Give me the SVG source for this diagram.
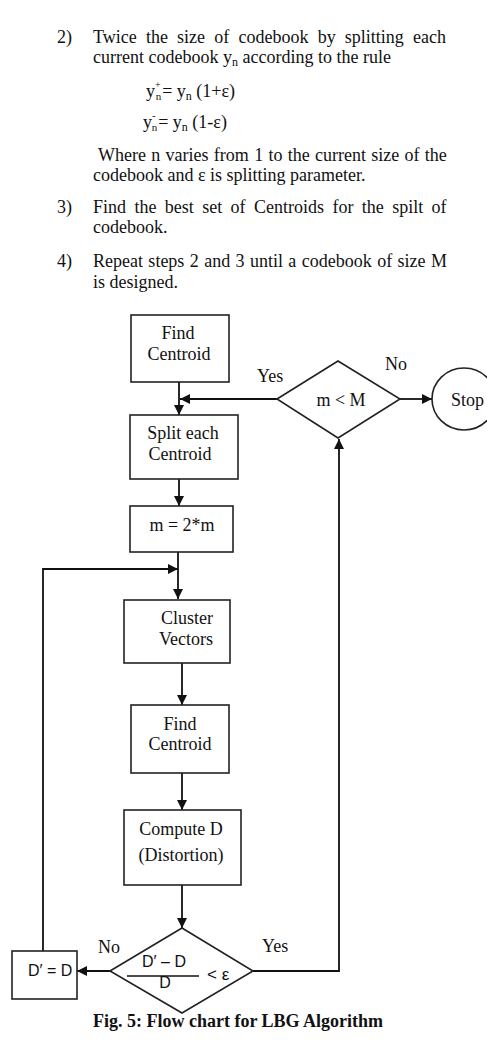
<svg xmlns="http://www.w3.org/2000/svg" width="487" height="1050" viewBox="0 0 487 1050">
<defs>
<style>
.t{font-family:"Liberation Serif","Times New Roman",serif;font-size:18px;fill:#111}
.c{text-anchor:middle}
.s{font-family:"Liberation Sans",Arial,sans-serif;fill:#111}
.b{font-weight:bold}
.box{fill:#fff;stroke:#222;stroke-width:1.6}
.ln{fill:none;stroke:#111;stroke-width:1.8}
</style>
<marker id="ah" viewBox="0 0 10 10" refX="10" refY="5" markerWidth="10" markerHeight="10" markerUnits="userSpaceOnUse" orient="auto">
<path d="M0,0 L10,5 L0,10 Z" fill="#111"/>
</marker>
</defs>
<rect width="487" height="1050" fill="#fff"/>

<g id="body-text">
<text class="t" x="57" y="43">2)</text>
<text class="t" x="93" y="43" word-spacing="4.7">Twice the size of codebook by splitting each</text>
<text class="t" x="93" y="63">current codebook y<tspan font-size="12" dy="3">n</tspan><tspan dy="-3"> according to the rule</tspan></text>
<text class="t" x="146" y="97">y<tspan font-size="10" dy="-9">+</tspan><tspan font-size="11" dx="-5" dy="12">n</tspan><tspan dy="-3" dx="1">= y</tspan><tspan font-size="12" dy="3">n</tspan><tspan dy="-3"> (1+ε)</tspan></text>
<text class="t" x="143" y="128">y<tspan font-size="11" dy="-9">-</tspan><tspan font-size="11" dx="-4" dy="12">n</tspan><tspan dy="-3" dx="1">= y</tspan><tspan font-size="12" dy="3">n</tspan><tspan dy="-3"> (1-ε)</tspan></text>
<text class="t" x="98" y="161" word-spacing="0.8">Where n varies from 1 to the current size of the</text>
<text class="t" x="93" y="181">codebook and ε is splitting parameter.</text>
<text class="t" x="57" y="213">3)</text>
<text class="t" x="93" y="213" word-spacing="3.9">Find the best set of Centroids for the spilt of</text>
<text class="t" x="93" y="233">codebook.</text>
<text class="t" x="57" y="267">4)</text>
<text class="t" x="93" y="267" word-spacing="0.9">Repeat steps 2 and 3 until a codebook of size M</text>
<text class="t" x="93" y="288">is designed.</text>
</g>

<g id="connectors">
<line class="ln" x1="179" y1="382" x2="179" y2="415" marker-end="url(#ah)"/>
<line class="ln" x1="277" y1="399" x2="180" y2="399" marker-end="url(#ah)"/>
<line class="ln" x1="400" y1="399" x2="432" y2="399" marker-end="url(#ah)"/>
<line class="ln" x1="179" y1="479" x2="179" y2="506" marker-end="url(#ah)"/>
<line class="ln" x1="178" y1="552" x2="178" y2="599" marker-end="url(#ah)"/>
<polyline class="ln" points="43,951 43,569 178,569" marker-end="url(#ah)"/>
<line class="ln" x1="182" y1="663" x2="182" y2="705" marker-end="url(#ah)"/>
<line class="ln" x1="182" y1="773" x2="182" y2="810" marker-end="url(#ah)"/>
<line class="ln" x1="182" y1="885" x2="182" y2="928" marker-end="url(#ah)"/>
<line class="ln" x1="110" y1="971" x2="77" y2="971" marker-end="url(#ah)"/>
<polyline class="ln" points="253,971 339,971 339,439" marker-end="url(#ah)"/>
<text class="t" x="257" y="382">Yes</text>
<text class="t" x="385" y="370">No</text>
<text class="t" x="98" y="953">No</text>
<text class="t" x="262" y="952">Yes</text>
</g>

<g id="find-centroid-1">
<rect class="box" x="131" y="315" width="98" height="67"/>
<text class="t c" x="178" y="339">Find</text>
<text class="t c" x="179" y="360">Centroid</text>
</g>

<g id="split">
<rect class="box" x="130" y="415" width="108" height="64"/>
<text class="t c" x="183" y="439">Split each</text>
<text class="t c" x="180" y="460">Centroid</text>
</g>

<g id="m-less-M">
<polygon class="box" points="277,399 338,361 400,399 338,438"/>
<text class="t c" x="341" y="406">m &lt; M</text>
</g>

<g id="stop">
<ellipse class="box" cx="464" cy="399" rx="32" ry="31"/>
<text class="t" x="451" y="406">Stop</text>
</g>

<g id="m-double">
<rect class="box" x="130" y="506" width="103" height="46"/>
<text class="t c" x="182" y="531">m = 2*m</text>
</g>

<g id="cluster">
<rect class="box" x="124" y="600" width="106" height="63"/>
<text class="t c" x="187" y="624">Cluster</text>
<text class="t c" x="186" y="645">Vectors</text>
</g>

<g id="find-centroid-2">
<rect class="box" x="131" y="705" width="98" height="68"/>
<text class="t c" x="180" y="730">Find</text>
<text class="t c" x="180" y="750">Centroid</text>
</g>

<g id="compute">
<rect class="box" x="124" y="810" width="117" height="75"/>
<text class="t c" x="181" y="835">Compute D</text>
<text class="t c" x="181" y="861">(Distortion)</text>
</g>

<g id="distortion-check">
<polygon class="box" points="110,971 182,928 253,971 182,1013"/>
<text class="s c" x="164" y="967" font-size="16">D′ – D</text>
<line x1="127" y1="976" x2="199" y2="976" stroke="#111" stroke-width="1.5"/>
<text class="s c" x="165" y="988" font-size="16">D</text>
<text class="s" x="207" y="980" font-size="17">&lt; ε</text>
</g>

<g id="d-update">
<rect class="box" x="12" y="951" width="65" height="48"/>
<text class="s" x="28" y="976" font-size="16">D′ = D</text>
</g>

<g id="caption">
<text class="t b c" x="238" y="1027">Fig. 5: Flow chart for LBG Algorithm</text>
<text class="t b" x="28" y="1063" font-size="22">4.</text>
<text class="t b" x="53" y="1063" font-size="22" textLength="355" lengthAdjust="spacingAndGlyphs">EXPERIMENTAL AND RESULTS</text>
</g>
</svg>
